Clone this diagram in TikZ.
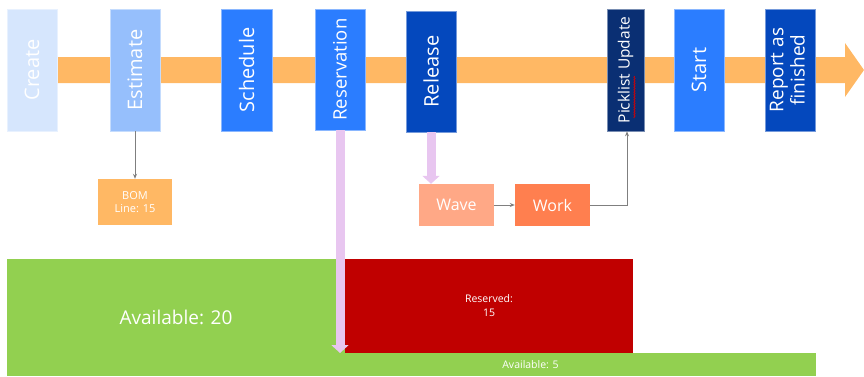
\documentclass[tikz,border=0pt]{standalone}
\usepackage{fontspec}
\setmainfont{Open Sans}
\usetikzlibrary{arrows.meta,decorations.pathmorphing}
\definecolor{cCreate}{HTML}{D6E6FD}
\definecolor{cEst}{HTML}{96BFFC}
\definecolor{cMid}{HTML}{2B7DFF}
\definecolor{cDark}{HTML}{0448BD}
\definecolor{cNavy}{HTML}{0A2F73}
\definecolor{cOrange}{HTML}{FFB864}
\definecolor{cWave}{HTML}{FFA886}
\definecolor{cWork}{HTML}{FF7F4F}
\definecolor{cRed}{HTML}{C00000}
\definecolor{cGreen}{HTML}{92D050}
\definecolor{cPink}{HTML}{E8C6F0}
\definecolor{cGrey}{HTML}{7F7F7F}
\begin{document}
\begin{tikzpicture}[x=1pt,y=-1pt,
  stagebox/.style={rectangle, inner sep=0pt, minimum width=50pt, minimum height=122pt,
    text=white, fill=#1, draw=#1!55!white, line width=0.6pt,
    font=\fontsize{20}{22}\selectfont},
  subbox/.style={rectangle, inner sep=0pt, minimum width=75pt, minimum height=42pt,
    text=white, fill=#1, font=\fontsize{16}{18}\selectfont},
  qtybox/.style={rectangle, inner sep=0pt, fill=#1, text=white},
  greyarrow/.style={draw=cGrey, line width=0.8pt, -{Stealth[length=5pt,width=4pt]}},
  pinkarrow/.style={draw=cPink, line width=9pt, -{Triangle[length=8pt,width=17pt]}},
]
\useasboundingbox (0,0) rectangle (864,376);
% main process arrow
\fill[cOrange] (30,57) -- (845,57) -- (845,43) -- (864,70) -- (845,97) -- (845,83) -- (30,83) -- cycle;
% stages
\node[stagebox=cCreate] (create) at (32,70) {\rotatebox{90}{Create}};
\node[stagebox=cEst] (estimate) at (135,70) {\rotatebox{90}{Estimate}};
\node[stagebox=cMid, minimum width=51pt] (schedule) at (246.5,70) {\rotatebox{90}{Schedule}};
\node[stagebox=cMid, minimum height=121pt, font=\fontsize{18.5}{20}\selectfont] (reservation) at (340,69.5) {\rotatebox{90}{Reservation}};
\node[stagebox=cDark, minimum height=121pt] (release) at (431,71.5) {\rotatebox{90}{Release}};
\node[stagebox=cNavy, minimum width=37pt, font=\fontsize{15.5}{17}\selectfont] (picklist) at (625.5,70) {\rotatebox{90}{Picklist Update}};
\node[stagebox=cMid] (start) at (699,70) {\rotatebox{90}{Start}};
\node[stagebox=cDark, font=\fontsize{19}{19}\selectfont] (report) at (790,70) {\rotatebox{90}{\begin{tabular}{@{}c@{}}Report as\\[1pt]finished\end{tabular}}};
\draw[red!85!black, line width=0.6pt, decorate, decoration={snake, amplitude=0.7pt, segment length=2.5pt}] (634.5,118) -- (634.5,76);
% sub steps
\node[qtybox=cOrange, minimum width=74pt, minimum height=46pt, font=\fontsize{11}{13}\selectfont, align=center] (bom) at (135,202) {BOM\\Line: 15};
\node[subbox=cWave] (wave) at (456.5,205) {Wave};
\node[subbox=cWork] (work) at (552.5,205) {Work};
% quantities
\node[qtybox=cGreen, minimum width=571pt, minimum height=23pt, font=\fontsize{10.5}{12}\selectfont] (avail5) at (530.5,364.5) {Available: 5};
\node[qtybox=cGreen, minimum width=338pt, minimum height=117pt, font=\fontsize{19}{21}\selectfont] (avail20) at (176,317.5) {Available: 20};
\node[qtybox=cRed, minimum width=288pt, minimum height=94pt, font=\fontsize{10.5}{14}\selectfont, align=center] (reserved) at (489,306) {Reserved:\\15};
\coordinate (restip) at (340,353);
% connectors
\draw[greyarrow] (estimate) -- (bom);
\draw[greyarrow] (wave) -- (work);
\draw[greyarrow] (work.east) -| ([xshift=1.5pt]picklist.south);
\draw[pinkarrow] (reservation.south) -- (restip);
\draw[pinkarrow] (release.south) -- (release.south |- wave.north);
\end{tikzpicture}
\end{document}
